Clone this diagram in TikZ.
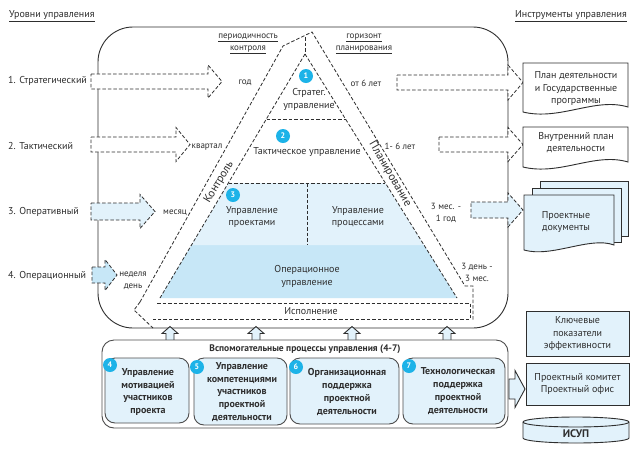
\documentclass[tikz,border=0pt]{standalone}
\usepackage{fontspec}
\setmainfont{PT Sans}
\definecolor{lblue}{HTML}{E2F2FB}
\definecolor{mblue}{HTML}{C7E7F7}
\definecolor{badge}{HTML}{1DB3E8}
\definecolor{ln}{HTML}{2E2E2E}
\newcommand{\rarr}[7]{\draw[#7] (#1,#4-#5) -- (#2,#4-#5) -- (#2,#4-#6) -- (#3,#4) -- (#2,#4+#6) -- (#2,#4+#5) -- (#1,#4+#5) -- cycle;}
\newcommand{\uarr}[1]{\draw[sol, fill=lblue] (#1-4,340) -- (#1-4,333.5) -- (#1-8,333.5) -- (#1,326.5) -- (#1+8,333.5) -- (#1+4,333.5) -- (#1+4,340);}
\tikzset{
 dsh/.style={draw=ln, line width=0.8pt, dash pattern=on 3.5pt off 2pt},
 sol/.style={draw=ln, line width=0.9pt},
 txt/.style={font=\fontsize{10}{12.5}\selectfont, align=center, inner sep=0pt, text=ln},
 stxt/.style={font=\fontsize{9}{12}\selectfont, align=center, inner sep=0pt, text=ln},
 btxt/.style={font=\bfseries\fontsize{10}{12.8}\selectfont, align=center, inner sep=0pt, text=ln},
 num/.style={circle, fill=badge, text=white, font=\bfseries\fontsize{8}{8}\selectfont, minimum size=14pt, inner sep=0pt},
 ibox/.style={draw=ln!85, fill=lblue, rounded corners=10pt, line width=0.9pt},
}
\begin{document}
\begin{tikzpicture}[x=1pt,y=-1pt]
\useasboundingbox (0,0) rectangle (638,451);
\fill[white] (0,0) rectangle (638,451);
% main frame
\node[sol, rounded corners=35pt, minimum width=410pt, minimum height=301pt, inner sep=0pt] (frame) at (303,177.5) {};
% pyramid fills
\fill[mblue] (191.5,245) -- (424,245) -- (457,298) -- (160,298) -- cycle;
\fill[lblue] (228.5,183) -- (385,183) -- (424,245) -- (191.5,245) -- cycle;
% pyramid dashed lines
\draw[dsh] (305,54) -- (160,298);
\draw[dsh] (305,54) -- (457,298);
\draw[dsh] (266.5,119) -- (345.5,119);
\draw[dsh] (228.5,183) -- (385,183);
\draw[dsh] (307,183) -- (307,245);
% bands
\draw[dsh] (305,37) -- (305,54);
\draw[dsh] (140,302) -- (283,46) -- (312,32) -- (465,286) -- (473,286) -- (473,320);
\draw[dsh] (140,302) -- (134,310) -- (153,328);
\draw[dsh] (157,303) -- (470,303) -- (470,319) -- (153,319);
% left arrows
\rarr{91}{208}{222}{81.5}{7.5}{16.5}{dsh, fill=white}
\rarr{91}{176}{190}{144.5}{7.5}{17}{dsh, fill=white}
\rarr{91}{140}{155}{211.5}{8.5}{17}{dsh, fill=lblue}
\rarr{92}{105}{117}{275}{8}{15.5}{dsh, fill=mblue}
% right arrows
\rarr{397}{508}{523}{82.5}{7.5}{17.5}{dsh, fill=white}
\rarr{439}{508}{523}{144.5}{7.5}{17}{dsh, fill=white}
\rarr{471}{508}{523}{210}{8}{17}{dsh, fill=lblue}
% titles
\node[txt, anchor=west] (tl) at (9,16) {\underline{Уровни управления}};
\node[txt, anchor=east] (tr) at (627,16) {\underline{Инструменты управления}};
\node[stxt] (per) at (248,44) {\underline{периодичность}\\\underline{контроля}};
\node[stxt] (hor) at (364,44) {\underline{горизонт}\\\underline{планирования}};
% level labels
\node[txt, anchor=west] (l1) at (8,81) {1. Стратегический};
\node[txt, anchor=west] (l2) at (8,146) {2. Тактический};
\node[txt, anchor=west] (l3) at (8,212) {3. Оперативный};
\node[txt, anchor=west] (l4) at (8,276) {4. Операционный};
\node[stxt] (p1) at (245,83) {год};
\node[stxt] (p2) at (207,147) {квартал};
\node[stxt] (p3) at (175,213) {месяц};
\node[stxt] (p4) at (133,281) {неделя\\день};
\node[stxt] (h1) at (366,83) {от 6 лет};
\node[stxt] (h2) at (400,146) {1- 6 лет};
\node[stxt] (h3) at (446,213) {3 мес. -\\1 год};
\node[stxt] (h4) at (477,272) {3 день -\\3 мес.};
% pyramid text
\node[num] (b1) at (306,76) {1};
\node[txt] (s1) at (309,99.5) {Стратег.\\управление};
\node[num] (b2) at (283,136) {2};
\node[txt] (s2) at (307,152) {Тактическое управление};
\node[num] (b3) at (233,195) {3};
\node[txt] (s3) at (252,217) {Управление\\проектами};
\node[txt] (s4) at (358,217) {Управление\\процессами};
\node[txt] (s5) at (307,276.5) {Операционное\\управление};
\node[txt] (s6) at (311,311) {Исполнение};
\node[txt, font=\fontsize{11.5}{12}\selectfont, rotate=59] (ctl) at (219,182) {Контроль};
\node[txt, font=\fontsize{11.5}{12}\selectfont, rotate=-60] (pln) at (390,174) {Планирование};
% documents
\draw[sol, fill=white] (523,63) -- (628,63) -- (628,107) .. controls (595,97) and (560,121) .. (523,112) -- cycle;
\node[txt] (d1) at (576,88.5) {План деятельности\\и Государственные\\программы};
\draw[sol, fill=white] (523,127) -- (628,127) -- (628,162) .. controls (595,152) and (560,176) .. (523,167) -- cycle;
\node[txt] (d2) at (576,142.5) {Внутренний план\\деятельности};
\draw[sol, fill=lblue] (540,181) -- (628,181) -- (628,236) -- (540,236) -- cycle;
\draw[sol, fill=lblue] (532,188) -- (621,188) -- (621,242) -- (532,242) -- cycle;
\draw[sol, fill=lblue] (524,195) -- (614,195) -- (614,245) .. controls (590,236) and (552,258) .. (524,250) -- cycle;
\node[txt] (d3) at (566,222) {Проектные\\документы};
% up arrows
\uarr{170}
\uarr{256}
\uarr{352}
\uarr{447}
% auxiliary box
\draw[sol, draw=ln!85, fill=white, rounded corners=12pt] (102,340) rectangle (508,428);
\node[btxt, font=\bfseries\fontsize{9.5}{11}\selectfont] (auxt) at (305,349.5) {Вспомогательные процессы управления (4-7)};
\draw[ibox] (105,358) rectangle (189,423);
\draw[ibox] (194,358) rectangle (287,425);
\draw[ibox] (290,358) rectangle (399,424);
\draw[ibox] (403,358) rectangle (505,424);
\node[btxt] (a4) at (148,392) {Управление\\мотивацией\\участников\\проекта};
\node[btxt] (a5) at (242,392) {Управление\\компетенциями\\участников\\проектной\\деятельности};
\node[btxt] (a6) at (347,392) {Организационная\\поддержка\\проектной\\деятельности};
\node[btxt] (a7) at (458,391) {Технологическая\\поддержка\\проектной\\деятельности};
\node[num] (b4) at (110,365) {4};
\node[num] (b5) at (197,367) {5};
\node[num] (b6) at (296,367) {6};
\node[num] (b7) at (409,366) {7};
% right lower boxes
\node[sol, fill=lblue, minimum width=103pt, minimum height=45pt, inner sep=0pt, txt] (kpi) at (577.5,333.5) {Ключевые\\показатели\\эффективности};
\node[sol, fill=lblue, minimum width=103pt, minimum height=42pt, inner sep=0pt, txt] (com) at (577.5,384) {Проектный комитет\\Проектный офис};
\rarr{509}{515}{525}{389}{10}{18.5}{sol, fill=lblue}
% cylinder
\draw[sol, fill=lblue] (523,422) -- (523,438) arc[start angle=180, end angle=0, x radius=53, y radius=5] -- (629,422) arc[start angle=0, end angle=-180, x radius=53, y radius=5] -- cycle;
\draw[sol] (523,422) arc[start angle=180, end angle=0, x radius=53, y radius=5];
\node[btxt, font=\bfseries\fontsize{11}{12}\selectfont] (isup) at (576,434) {ИСУП};
\end{tikzpicture}
\end{document}
